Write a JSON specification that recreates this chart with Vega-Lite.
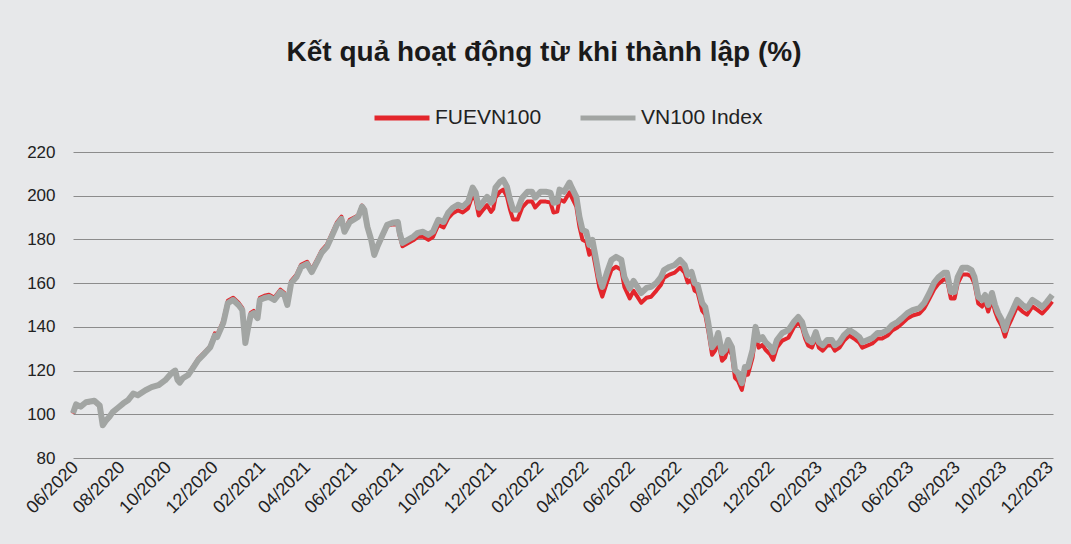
{
  "$schema": "https://vega.github.io/schema/vega-lite/v6.json",
  "width": 980,
  "height": 306,
  "autosize": {"type": "none"},
  "padding": {"left": 73, "top": 152, "right": 18, "bottom": 86},
  "background": "#e7e8ea",
  "title": {"text": "Kết quả hoạt động từ khi thành lập (%)", "fontSize": 28, "fontWeight": "bold", "font": "Liberation Sans", "color": "#1a1a1a", "anchor": "middle", "dx": -19, "offset": 21},
  "config": {
    "view": {"stroke": null},
    "font": "Liberation Sans",
    "axis": {"domain": false, "ticks": false, "labelFont": "Liberation Sans", "labelColor": "#222222", "labelFontSize": 17, "title": null},
    "axisY": {"grid": true, "gridColor": "#8c8c8c", "gridWidth": 1, "labelPadding": 18, "tickCount": 8},
    "axisX": {"grid": false},
    "legend": {"labelFont": "Liberation Sans"}
  },
  "data": {"values": [
    {"d":"2020-06-01","v":100.5,"f":100.3},{"d":"2020-06-05","v":104.5,"f":104.3},{"d":"2020-06-11","v":103.5,"f":103.3},{"d":"2020-06-18","v":105.5,"f":105.3},{"d":"2020-06-29","v":106.2,"f":106.0},
    {"d":"2020-07-06","v":104.0,"f":103.8},{"d":"2020-07-10","v":95.0,"f":94.8},{"d":"2020-07-14","v":97.0,"f":96.8},{"d":"2020-07-19","v":99.0,"f":98.8},{"d":"2020-07-23","v":101.0,"f":100.8},{"d":"2020-07-30","v":103.0,"f":102.8},
    {"d":"2020-08-06","v":105.0,"f":105.0},{"d":"2020-08-12","v":106.4,"f":106.4},{"d":"2020-08-19","v":109.5,"f":109.5},{"d":"2020-08-25","v":108.7,"f":108.7},
    {"d":"2020-09-04","v":111.0,"f":111.0},{"d":"2020-09-12","v":112.4,"f":112.4},{"d":"2020-09-21","v":113.3,"f":113.3},{"d":"2020-09-30","v":115.6,"f":115.6},
    {"d":"2020-10-08","v":118.8,"f":118.8},{"d":"2020-10-13","v":120.0,"f":120.0},{"d":"2020-10-16","v":115.8,"f":115.8},{"d":"2020-10-19","v":114.5,"f":114.5},{"d":"2020-10-23","v":116.5,"f":116.5},{"d":"2020-10-30","v":118.0,"f":118.0},
    {"d":"2020-11-03","v":120.0,"f":120.5},{"d":"2020-11-12","v":124.8,"f":125.3},{"d":"2020-11-21","v":128.0,"f":128.5},{"d":"2020-11-28","v":130.7,"f":131.2},
    {"d":"2020-12-04","v":136.0,"f":137.0},{"d":"2020-12-07","v":135.3,"f":136.3},{"d":"2020-12-15","v":141.7,"f":142.7},{"d":"2020-12-21","v":150.9,"f":151.9},{"d":"2020-12-28","v":152.3,"f":153.3},
    {"d":"2021-01-04","v":150.0,"f":151.0},{"d":"2021-01-09","v":147.7,"f":148.7},{"d":"2021-01-13","v":132.6,"f":133.6},{"d":"2021-01-16","v":138.5,"f":139.5},{"d":"2021-01-20","v":145.4,"f":146.4},{"d":"2021-01-24","v":146.3,"f":147.3},{"d":"2021-01-29","v":144.0,"f":145.0},
    {"d":"2021-02-01","v":152.3,"f":153.3},{"d":"2021-02-07","v":153.2,"f":154.2},{"d":"2021-02-13","v":153.7,"f":154.7},{"d":"2021-02-20","v":152.3,"f":153.3},{"d":"2021-02-28","v":156.0,"f":157.0},
    {"d":"2021-03-05","v":154.6,"f":155.6},{"d":"2021-03-09","v":150.0,"f":151.0},{"d":"2021-03-14","v":160.0,"f":161.0},{"d":"2021-03-21","v":162.8,"f":163.8},{"d":"2021-03-27","v":167.4,"f":168.4},
    {"d":"2021-04-04","v":168.8,"f":169.8},{"d":"2021-04-10","v":165.1,"f":166.1},{"d":"2021-04-17","v":169.7,"f":170.7},{"d":"2021-04-23","v":173.9,"f":174.9},{"d":"2021-04-30","v":176.6,"f":177.6},
    {"d":"2021-05-06","v":181.2,"f":182.2},{"d":"2021-05-13","v":186.7,"f":187.7},{"d":"2021-05-19","v":189.4,"f":190.4},{"d":"2021-05-23","v":183.5,"f":184.5},{"d":"2021-05-30","v":188.0,"f":189.0},
    {"d":"2021-06-06","v":189.5,"f":190.3},{"d":"2021-06-10","v":190.4,"f":191.0},{"d":"2021-06-15","v":195.0,"f":195.5},{"d":"2021-06-18","v":193.6,"f":194.0},{"d":"2021-06-22","v":185.8,"f":186.0},{"d":"2021-06-27","v":179.8,"f":179.8},
    {"d":"2021-07-01","v":172.9,"f":172.8},{"d":"2021-07-05","v":176.6,"f":176.4},{"d":"2021-07-12","v":182.1,"f":181.7},{"d":"2021-07-18","v":186.7,"f":186.2},{"d":"2021-07-25","v":187.6,"f":186.9},
    {"d":"2021-08-01","v":188.0,"f":186.8},{"d":"2021-08-03","v":183.5,"f":182.2},{"d":"2021-08-07","v":178.4,"f":176.9},{"d":"2021-08-14","v":179.8,"f":178.3},{"d":"2021-08-21","v":181.2,"f":179.6},{"d":"2021-08-27","v":183.0,"f":181.2},
    {"d":"2021-09-03","v":183.5,"f":181.3},{"d":"2021-09-10","v":182.1,"f":179.8},{"d":"2021-09-16","v":183.5,"f":181.1},{"d":"2021-09-23","v":189.0,"f":186.6},{"d":"2021-09-30","v":188.0,"f":185.5},
    {"d":"2021-10-06","v":192.2,"f":189.7},{"d":"2021-10-12","v":194.5,"f":192.0},{"d":"2021-10-19","v":195.9,"f":193.3},{"d":"2021-10-25","v":195.0,"f":192.3},
    {"d":"2021-11-01","v":197.2,"f":194.2},{"d":"2021-11-07","v":203.7,"f":200.3},{"d":"2021-11-11","v":201.4,"f":197.9},{"d":"2021-11-15","v":194.5,"f":191.0},{"d":"2021-11-20","v":196.8,"f":193.2},{"d":"2021-11-26","v":199.5,"f":195.7},
    {"d":"2021-12-01","v":196.8,"f":192.6},{"d":"2021-12-04","v":198.2,"f":193.9},{"d":"2021-12-07","v":203.7,"f":199.2},{"d":"2021-12-13","v":206.4,"f":201.9},{"d":"2021-12-17","v":207.3,"f":202.8},{"d":"2021-12-22","v":204.1,"f":199.6},{"d":"2021-12-26","v":198.2,"f":193.7},{"d":"2021-12-30","v":193.6,"f":189.1},
    {"d":"2022-01-05","v":193.6,"f":189.1},{"d":"2022-01-11","v":199.1,"f":194.6},{"d":"2022-01-18","v":201.8,"f":197.3},{"d":"2022-01-24","v":201.8,"f":197.3},{"d":"2022-01-28","v":199.1,"f":194.6},
    {"d":"2022-02-04","v":201.8,"f":197.3},{"d":"2022-02-11","v":201.8,"f":197.3},{"d":"2022-02-17","v":201.4,"f":196.9},{"d":"2022-02-21","v":196.8,"f":192.3},{"d":"2022-02-26","v":197.2,"f":192.7},
    {"d":"2022-03-01","v":202.8,"f":198.3},{"d":"2022-03-07","v":201.8,"f":197.3},{"d":"2022-03-14","v":206.0,"f":201.5},{"d":"2022-03-17","v":203.7,"f":199.2},{"d":"2022-03-23","v":199.5,"f":195.0},{"d":"2022-03-27","v":190.4,"f":185.9},{"d":"2022-03-31","v":184.4,"f":179.9},
    {"d":"2022-04-05","v":183.5,"f":179.0},{"d":"2022-04-09","v":177.5,"f":173.0},{"d":"2022-04-13","v":179.8,"f":175.3},{"d":"2022-04-18","v":170.6,"f":166.1},{"d":"2022-04-22","v":162.8,"f":158.3},{"d":"2022-04-26","v":158.3,"f":153.8},
    {"d":"2022-05-02","v":164.7,"f":160.2},{"d":"2022-05-08","v":170.6,"f":166.1},{"d":"2022-05-14","v":172.0,"f":167.5},{"d":"2022-05-21","v":170.6,"f":166.1},{"d":"2022-05-25","v":162.8,"f":158.3},
    {"d":"2022-06-01","v":157.5,"f":153.0},{"d":"2022-06-06","v":161.0,"f":156.5},{"d":"2022-06-11","v":158.3,"f":153.8},{"d":"2022-06-16","v":155.5,"f":151.0},{"d":"2022-06-23","v":157.8,"f":153.3},{"d":"2022-06-29","v":158.3,"f":153.8},
    {"d":"2022-07-06","v":160.1,"f":156.6},{"d":"2022-07-12","v":162.8,"f":159.3},{"d":"2022-07-16","v":166.0,"f":162.5},{"d":"2022-07-23","v":167.4,"f":163.9},{"d":"2022-07-30","v":168.3,"f":164.8},
    {"d":"2022-08-06","v":170.6,"f":167.1},{"d":"2022-08-12","v":168.3,"f":164.8},{"d":"2022-08-16","v":163.8,"f":160.3},{"d":"2022-08-21","v":165.1,"f":161.6},{"d":"2022-08-25","v":160.1,"f":156.6},{"d":"2022-08-29","v":159.2,"f":155.7},
    {"d":"2022-09-04","v":150.9,"f":147.4},{"d":"2022-09-08","v":149.1,"f":145.6},{"d":"2022-09-12","v":141.7,"f":138.2},{"d":"2022-09-17","v":130.7,"f":127.2},{"d":"2022-09-21","v":132.6,"f":129.1},{"d":"2022-09-25","v":137.2,"f":133.7},{"d":"2022-09-30","v":128.0,"f":124.5},
    {"d":"2022-10-04","v":129.4,"f":125.9},{"d":"2022-10-08","v":134.0,"f":130.5},{"d":"2022-10-13","v":130.7,"f":127.2},{"d":"2022-10-17","v":120.2,"f":116.7},{"d":"2022-10-21","v":118.8,"f":115.3},{"d":"2022-10-26","v":114.2,"f":111.2},{"d":"2022-10-30","v":121.6,"f":118.1},
    {"d":"2022-11-03","v":121.6,"f":118.1},{"d":"2022-11-09","v":129.4,"f":125.9},{"d":"2022-11-13","v":140.0,"f":136.5},{"d":"2022-11-17","v":134.0,"f":130.5},{"d":"2022-11-22","v":135.3,"f":131.8},{"d":"2022-11-26","v":133.0,"f":129.5},
    {"d":"2022-12-02","v":131.0,"f":127.5},{"d":"2022-12-06","v":128.4,"f":124.9},{"d":"2022-12-11","v":134.0,"f":130.5},{"d":"2022-12-18","v":137.2,"f":133.7},{"d":"2022-12-26","v":138.5,"f":135.0},
    {"d":"2023-01-02","v":142.2,"f":139.7},{"d":"2023-01-08","v":144.5,"f":142.0},{"d":"2023-01-13","v":142.2,"f":139.7},{"d":"2023-01-17","v":137.2,"f":134.7},{"d":"2023-01-21","v":134.0,"f":131.5},{"d":"2023-01-26","v":133.0,"f":130.5},{"d":"2023-01-31","v":137.6,"f":135.1},
    {"d":"2023-02-04","v":133.0,"f":130.5},{"d":"2023-02-09","v":131.6,"f":129.1},{"d":"2023-02-15","v":134.0,"f":131.5},{"d":"2023-02-21","v":134.0,"f":131.5},{"d":"2023-02-25","v":131.6,"f":129.1},
    {"d":"2023-03-03","v":133.0,"f":130.5},{"d":"2023-03-09","v":136.2,"f":133.7},{"d":"2023-03-16","v":138.5,"f":136.0},{"d":"2023-03-22","v":137.2,"f":134.7},{"d":"2023-03-29","v":135.3,"f":132.8},
    {"d":"2023-04-02","v":133.0,"f":130.5},{"d":"2023-04-09","v":134.0,"f":131.5},{"d":"2023-04-15","v":134.9,"f":132.4},{"d":"2023-04-22","v":137.2,"f":134.7},{"d":"2023-04-28","v":137.2,"f":134.7},
    {"d":"2023-05-05","v":138.5,"f":136.0},{"d":"2023-05-11","v":140.8,"f":138.3},{"d":"2023-05-18","v":142.2,"f":139.7},{"d":"2023-05-24","v":144.0,"f":141.5},{"d":"2023-05-31","v":146.3,"f":143.8},
    {"d":"2023-06-07","v":147.7,"f":145.2},{"d":"2023-06-16","v":148.6,"f":146.1},{"d":"2023-06-22","v":150.9,"f":148.4},{"d":"2023-06-29","v":155.5,"f":153.0},
    {"d":"2023-07-05","v":160.1,"f":157.1},{"d":"2023-07-11","v":162.8,"f":159.8},{"d":"2023-07-18","v":164.7,"f":161.7},{"d":"2023-07-22","v":164.7,"f":161.7},{"d":"2023-07-27","v":156.0,"f":153.0},
    {"d":"2023-08-01","v":156.0,"f":153.0},{"d":"2023-08-05","v":162.8,"f":159.8},{"d":"2023-08-11","v":167.0,"f":164.0},{"d":"2023-08-18","v":167.0,"f":164.0},{"d":"2023-08-23","v":166.0,"f":163.0},{"d":"2023-08-27","v":162.8,"f":159.8},
    {"d":"2023-09-01","v":153.7,"f":150.7},{"d":"2023-09-06","v":152.3,"f":149.3},{"d":"2023-09-10","v":154.6,"f":151.6},{"d":"2023-09-14","v":150.0,"f":147.0},{"d":"2023-09-19","v":155.5,"f":152.5},{"d":"2023-09-23","v":150.0,"f":147.0},{"d":"2023-09-27","v":146.3,"f":143.3},
    {"d":"2023-10-02","v":143.1,"f":140.1},{"d":"2023-10-06","v":138.5,"f":135.5},{"d":"2023-10-10","v":143.1,"f":140.1},{"d":"2023-10-15","v":146.8,"f":143.8},{"d":"2023-10-22","v":152.3,"f":149.3},{"d":"2023-10-29","v":150.0,"f":147.0},
    {"d":"2023-11-04","v":148.6,"f":145.6},{"d":"2023-11-11","v":152.3,"f":149.3},{"d":"2023-11-17","v":150.9,"f":147.9},{"d":"2023-11-24","v":149.1,"f":146.1},{"d":"2023-11-30","v":151.4,"f":148.4},
    {"d":"2023-12-07","v":154.6,"f":151.6}
  ]},
  "encoding": {
    "x": {
      "field": "d", "type": "temporal",
      "scale": {"type": "utc", "domain": [{"year": 2020, "month": 6, "date": 1, "utc": true}, {"year": 2023, "month": 12, "date": 8, "utc": true}]},
      "axis": {
        "format": "%m/%Y", "labelAngle": -45, "labelAlign": "right", "labelBaseline": "top", "labelPadding": 0, "labelOffset": -4, "labelFontSize": 18, "labelOverlap": false,
        "values": [
          {"year": 2020, "month": 6, "date": 1, "utc": true}, {"year": 2020, "month": 8, "date": 1, "utc": true}, {"year": 2020, "month": 10, "date": 1, "utc": true}, {"year": 2020, "month": 12, "date": 1, "utc": true},
          {"year": 2021, "month": 2, "date": 1, "utc": true}, {"year": 2021, "month": 4, "date": 1, "utc": true}, {"year": 2021, "month": 6, "date": 1, "utc": true}, {"year": 2021, "month": 8, "date": 1, "utc": true}, {"year": 2021, "month": 10, "date": 1, "utc": true}, {"year": 2021, "month": 12, "date": 1, "utc": true},
          {"year": 2022, "month": 2, "date": 1, "utc": true}, {"year": 2022, "month": 4, "date": 1, "utc": true}, {"year": 2022, "month": 6, "date": 1, "utc": true}, {"year": 2022, "month": 8, "date": 1, "utc": true}, {"year": 2022, "month": 10, "date": 1, "utc": true}, {"year": 2022, "month": 12, "date": 1, "utc": true},
          {"year": 2023, "month": 2, "date": 1, "utc": true}, {"year": 2023, "month": 4, "date": 1, "utc": true}, {"year": 2023, "month": 6, "date": 1, "utc": true}, {"year": 2023, "month": 8, "date": 1, "utc": true}, {"year": 2023, "month": 10, "date": 1, "utc": true}, {"year": 2023, "month": 12, "date": 1, "utc": true}
        ]
      }
    }
  },
  "layer": [
    {
      "mark": {"type": "line", "strokeWidth": 4, "strokeJoin": "round"},
      "encoding": {
        "y": {"field": "f", "type": "quantitative", "scale": {"domain": [80, 220], "nice": false}, "axis": {"values": [80, 100, 120, 140, 160, 180, 200, 220], "title": null}},
        "color": {
          "datum": "FUEVN100", "type": "nominal",
          "scale": {"domain": ["FUEVN100", "VN100 Index"], "range": ["#e3262c", "#a2a5a3"]},
          "legend": {"title": null, "orient": "none", "legendX": 299, "legendY": -64, "direction": "horizontal", "symbolType": "stroke", "symbolSize": 3025, "symbolStrokeWidth": 5, "labelFontSize": 21, "labelColor": "#222222", "labelOffset": 3, "columnPadding": 28}
        }
      }
    },
    {
      "mark": {"type": "line", "strokeWidth": 6, "strokeJoin": "round"},
      "encoding": {
        "y": {"field": "v", "type": "quantitative", "axis": {"title": null}},
        "color": {"datum": "VN100 Index", "type": "nominal"}
      }
    }
  ]
}
